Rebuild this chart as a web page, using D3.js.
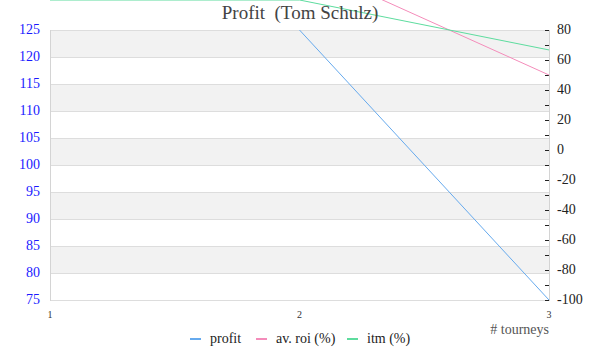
<!DOCTYPE html>
<html lang="en">
<head>
<meta charset="UTF-8">
<title>Profit (Tom Schulz)</title>
<script src="https://cdn.jsdelivr.net/npm/d3@7"></script>
<style>
  body { margin: 0; background: #fff; }
  text { font-family: "Liberation Serif", Georgia, serif; white-space: pre; }
</style>
</head>
<body>
<script>
// data
var tourneys = [1, 2, 3];
var profit = [null, 125, 75];   // left axis
var avRoi = [150, 125, 50];     // right axis
var itm = [100, 100, 66.7];     // right axis
var leftTicks = [75, 80, 85, 90, 95, 100, 105, 110, 115, 120, 125];
var rightTicks = [-100, -80, -60, -40, -20, 0, 20, 40, 60, 80];

var w = 600, h = 360;
var pLeft = 50, pRight = 549, pTop = 30, pBottom = 300;

var svg = d3.select("body").append("svg")
  .attr("width", w)
  .attr("height", h);

var x = d3.scaleLinear().domain([1, 3]).range([pLeft, pRight]);
var yL = d3.scaleLinear().domain([75, 125]).range([pBottom, pTop]);
var yR = d3.scaleLinear().domain([-100, 80]).range([pBottom, pTop]);

// striped background
var bands = leftTicks.slice(0, -1).filter(function(d, i) { return i % 2 == 1; });
svg.selectAll("rect.band")
  .data(bands)
  .enter().append("rect")
  .attr("class", "band")
  .attr("x", pLeft)
  .attr("width", pRight - pLeft)
  .attr("y", function(d) { return yL(d + 5); })
  .attr("height", function(d) { return yL(d) - yL(d + 5); })
  .attr("fill", "#f2f2f2");

// gridlines
svg.selectAll("line.grid")
  .data(leftTicks)
  .enter().append("line")
  .attr("class", "grid")
  .attr("x1", pLeft).attr("x2", pRight)
  .attr("y1", function(d) { return Math.round(yL(d)) + 0.5; })
  .attr("y2", function(d) { return Math.round(yL(d)) + 0.5; })
  .attr("stroke", "#dddddd");

// left axis
svg.append("line")
  .attr("x1", pLeft + 0.5).attr("x2", pLeft + 0.5)
  .attr("y1", pTop).attr("y2", pBottom + 1)
  .attr("stroke", "#d4d4d4");
svg.selectAll("text.yl")
  .data(leftTicks)
  .enter().append("text")
  .attr("class", "yl")
  .attr("x", 40)
  .attr("y", function(d) { return yL(d) + 4; })
  .attr("text-anchor", "end")
  .attr("font-size", 14)
  .attr("fill", "#1a1aff")
  .text(function(d) { return d; });

// right axis
svg.append("line")
  .attr("x1", pRight + 0.5).attr("x2", pRight + 0.5)
  .attr("y1", pTop).attr("y2", pBottom + 1)
  .attr("stroke", "#d4d4d4");
var minor = d3.range(-100, 81, 10);
svg.selectAll("line.rtick")
  .data(minor)
  .enter().append("line")
  .attr("class", "rtick")
  .attr("x1", pRight - 4).attr("x2", pRight)
  .attr("y1", function(d) { return Math.round(yR(d)) + 0.5; })
  .attr("y2", function(d) { return Math.round(yR(d)) + 0.5; })
  .attr("stroke", "#222");
svg.selectAll("text.yr")
  .data(rightTicks)
  .enter().append("text")
  .attr("class", "yr")
  .attr("x", 557)
  .attr("y", function(d) { return yR(d) + 4; })
  .attr("font-size", 14)
  .attr("fill", "#222")
  .text(function(d) { return d; });

// x ticks
svg.selectAll("text.xt")
  .data(tourneys)
  .enter().append("text")
  .attr("class", "xt")
  .attr("x", function(d) { return x(d); })
  .attr("y", 318)
  .attr("text-anchor", "middle")
  .attr("font-size", 10)
  .attr("fill", "#333")
  .text(function(d) { return d; });
svg.append("text")
  .attr("x", pRight)
  .attr("y", 334)
  .attr("text-anchor", "end")
  .attr("font-size", 14)
  .attr("fill", "#555")
  .text("# tourneys");

// lines
var series = [
  { name: "profit", values: profit, y: yL, color: "#66aaee" },
  { name: "av. roi (%)", values: avRoi, y: yR, color: "#f48cba" },
  { name: "itm (%)", values: itm, y: yR, color: "#5ddc9e" }
];
series.forEach(function(s) {
  var line = d3.line()
    .defined(function(d) { return d != null; })
    .x(function(d, i) { return x(tourneys[i]); })
    .y(function(d) { return s.y(d); });
  svg.append("path")
    .attr("d", line(s.values))
    .attr("fill", "none")
    .attr("stroke", s.color)
    .attr("stroke-width", 1);
});

// title
svg.append("text")
  .attr("x", 300)
  .attr("y", 19)
  .attr("text-anchor", "middle")
  .attr("font-size", 19)
  .attr("fill", "#444")
  .text("Profit  (Tom Schulz)");

// legend
var legX = [190, 256, 347];
var leg = svg.selectAll("g.leg")
  .data(series)
  .enter().append("g")
  .attr("class", "leg")
  .attr("transform", function(d, i) { return "translate(" + legX[i] + ",339)"; });
leg.append("line")
  .attr("x1", 0).attr("x2", 11)
  .attr("stroke", function(d) { return d.color; })
  .attr("stroke-width", 2);
leg.append("text")
  .attr("x", 20)
  .attr("y", 4)
  .attr("font-size", 14)
  .attr("fill", "#222")
  .text(function(d) { return d.name; });
</script>
</body>
</html>
